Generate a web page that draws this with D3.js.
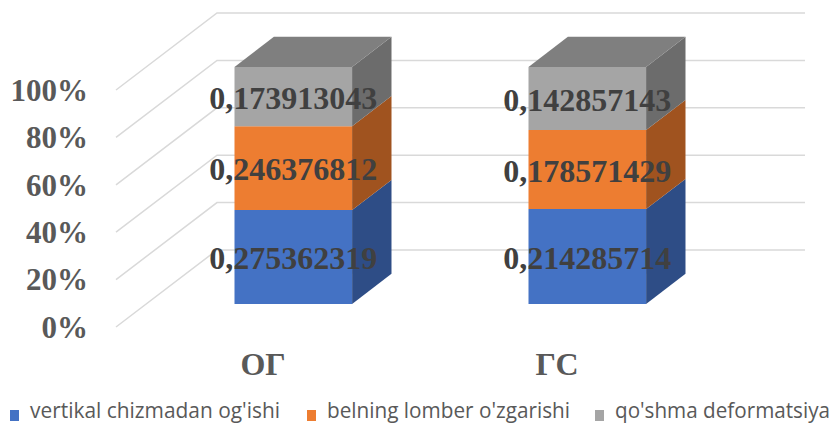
<!DOCTYPE html>
<html>
<head>
<meta charset="utf-8">
<script src="https://cdn.jsdelivr.net/npm/d3@7"></script>
<style>
  html, body { margin: 0; padding: 0; background: #fff; overflow: hidden; }
</style>
</head>
<body>
<div id="chart"></div>
<script>
// данные с картинки
var categories = ["ОГ", "ГС"];
var seriesNames = ["vertikal chizmadan og'ishi", "belning lomber o'zgarishi", "qo'shma deformatsiya"];
var vertikal = [0.275362319, 0.214285714];
var belning = [0.246376812, 0.178571429];
var qoshma = [0.173913043, 0.142857143];
var yTicks = [0, 0.2, 0.4, 0.6, 0.8, 1];

var frontColors = ["#4472C4", "#ED7D31", "#A5A5A5"];
var sideColors = ["#2E4D86", "#A0531F", "#6C6C6C"];
var topColors = ["#3A62A8", "#C9692A", "#7F7F7F"];

var width = 833, height = 425;
// наклонная проекция: вектор глубины
var depth = { dx: 101, dy: -77 };
var barD0 = 0.3, barD1 = 0.69;

var rows = categories.map(function (c, i) {
    return { cat: c, s0: vertikal[i], s1: belning[i], s2: qoshma[i] };
});
var keys = ["s0", "s1", "s2"];
var stacked = d3.stack().keys(keys).offset(d3.stackOffsetExpand)(rows);

var x = d3.scaleBand().domain(categories).range([116, 704]).padding(0);
var y = d3.scaleLinear().domain([0, 1]).range([327, 90]);
var barW = x.bandwidth() / 2.5;

function pt(px, v, d) {
    return [px + d * depth.dx, y(v) + d * depth.dy];
}

var svg = d3.select("#chart").append("svg")
    .attr("width", width)
    .attr("height", height);

// сетка: диагональ по левой стене + горизонталь по задней стене
var grid = svg.append("g").attr("class", "grid");
yTicks.forEach(function (t) {
    var a = pt(x.range()[0], t, 0), b = pt(x.range()[0], t, 1);
    grid.append("polyline")
        .attr("points", [a, b, [805, b[1]]].map(function (p) { return p.join(","); }).join(" "))
        .attr("fill", "none")
        .attr("stroke", "#D9D9D9")
        .attr("stroke-width", 1.5);
});

// подписи оси Y
svg.append("g").selectAll("text")
    .data(yTicks)
    .join("text")
    .attr("x", 88)
    .attr("y", function (d) { return y(d); })
    .attr("dy", "0.35em")
    .attr("text-anchor", "end")
    .attr("font-family", "'Liberation Serif', 'Times New Roman', serif")
    .attr("font-weight", "bold")
    .attr("font-size", 31)
    .attr("fill", "#595959")
    .text(function (d) { return d3.format(".0%")(d); });

// столбики
var bars = svg.append("g").attr("class", "bars");
stacked.forEach(function (layer, si) {
    layer.forEach(function (seg, ci) {
        var cat = categories[ci];
        var x0 = x(cat) + (x.bandwidth() - barW) / 2;
        var x1 = x0 + barW;
        var v0 = seg[0], v1 = seg[1];
        var g = bars.append("g");
        // передняя грань
        var f = [pt(x0, v0, barD0), pt(x1, v0, barD0), pt(x1, v1, barD0), pt(x0, v1, barD0)];
        g.append("polygon").attr("points", f.map(String).join(" ")).attr("fill", frontColors[si]);
        // боковая грань
        var s = [pt(x1, v0, barD0), pt(x1, v0, barD1), pt(x1, v1, barD1), pt(x1, v1, barD0)];
        g.append("polygon").attr("points", s.map(String).join(" ")).attr("fill", sideColors[si]);
        // верх
        if (si === stacked.length - 1) {
            var tp = [pt(x0, v1, barD0), pt(x1, v1, barD0), pt(x1, v1, barD1), pt(x0, v1, barD1)];
            g.append("polygon").attr("points", tp.map(String).join(" ")).attr("fill", topColors[si]);
        }
    });
});

// подписи значений
var series = [vertikal, belning, qoshma];
var labels = svg.append("g");
stacked.forEach(function (layer, si) {
    layer.forEach(function (seg, ci) {
        var cat = categories[ci];
        var cx = x(cat) + x.bandwidth() / 2 + barD0 * depth.dx;
        var cy = y((seg[0] + seg[1]) / 2) + barD0 * depth.dy;
        labels.append("text")
            .attr("x", cx)
            .attr("y", cy)
            .attr("dy", "0.38em")
            .attr("text-anchor", "middle")
            .attr("font-family", "'Liberation Serif', 'Times New Roman', serif")
            .attr("font-weight", "bold")
            .attr("font-size", 32)
            .attr("fill", "#404040")
            .text(String(series[si][ci]).replace(".", ","));
    });
});

// подписи категорий
svg.append("g").selectAll("text")
    .data(categories)
    .join("text")
    .attr("x", function (d) { return x(d) + x.bandwidth() / 2; })
    .attr("y", 375)
    .attr("text-anchor", "middle")
    .attr("font-family", "'Liberation Serif', 'Times New Roman', serif")
    .attr("font-weight", "bold")
    .attr("font-size", 32)
    .attr("fill", "#595959")
    .text(function (d) { return d; });

// легенда
var legendX = [10, 307, 595];
var legendTextW = [250, 243, 215];
var legend = svg.append("g");
seriesNames.forEach(function (name, i) {
    legend.append("rect")
        .attr("x", legendX[i])
        .attr("y", 410)
        .attr("width", 9)
        .attr("height", 11)
        .attr("fill", frontColors[i]);
    legend.append("text")
        .attr("x", legendX[i] + 20)
        .attr("y", 418)
        .attr("font-family", "'Open Sans', 'Noto Sans', sans-serif")
        .attr("font-size", 21)
        .attr("fill", "#595959")
        .attr("textLength", legendTextW[i])
        .attr("lengthAdjust", "spacingAndGlyphs")
        .text(name);
});
</script>
</body>
</html>
